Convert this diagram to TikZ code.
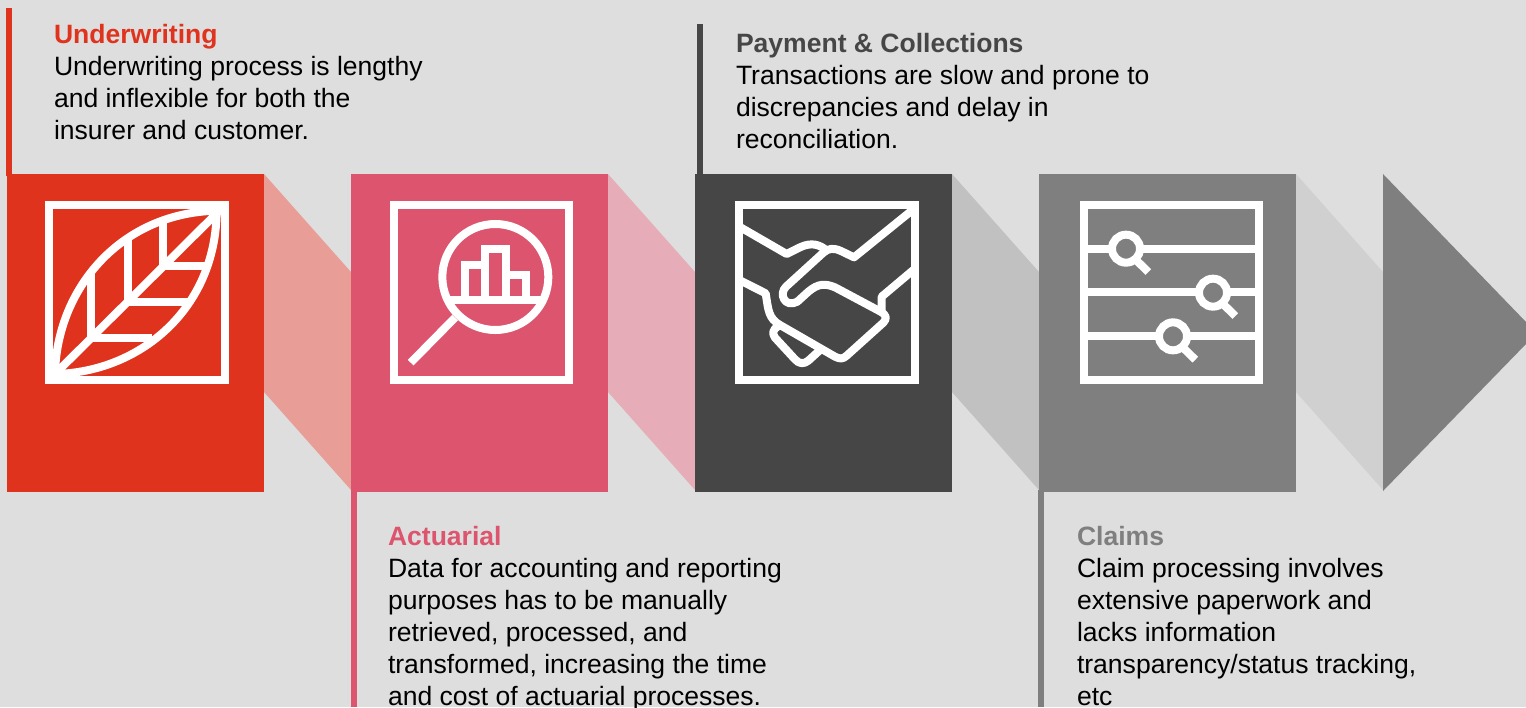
\documentclass[tikz,border=0pt]{standalone}
\usepackage{fontspec}
\setmainfont{Liberation Sans}
\definecolor{bg}{HTML}{DEDEDE}
\definecolor{cred}{HTML}{E0331E}
\definecolor{cpink}{HTML}{DC546D}
\definecolor{cdark}{HTML}{464646}
\definecolor{cgray}{HTML}{7F7F7F}
\definecolor{bred}{HTML}{E89E96}
\definecolor{bpink}{HTML}{E6ACB7}
\definecolor{bdark}{HTML}{C1C1C1}
\definecolor{bgray}{HTML}{D0D0D0}
\tikzset{
 every node/.style={inner sep=0pt,outer sep=0pt},
 card/.style={anchor=north west,minimum width=192.75pt,minimum height=238.5pt},
 txt/.style={anchor=north west,align=left,font=\fontsize{19.9}{24}\selectfont,text=black},
 ic/.style={draw=white,line width=6pt,miter limit=10},
 icr/.style={ic,line join=round,line cap=round},
}
\begin{document}
\begin{tikzpicture}[x=.75pt,y=-.75pt]
\useasboundingbox (0,0) rectangle (1526,707);
\fill[bg] (0,0) rectangle (1526,707);
% bands
\fill[bred] (264,174)--(351,272)--(351,490)--(264,392)--cycle;
\fill[bpink] (608,174)--(695,272)--(695,490)--(608,392)--cycle;
\fill[bdark] (952,174)--(1039,272)--(1039,490)--(952,392)--cycle;
\fill[bgray] (1296,174)--(1383,272)--(1383,490)--(1296,392)--cycle;
% rules
\fill[cred] (5.5,8) rectangle (11.5,176);
\fill[cpink] (351,490) rectangle (357,707);
\fill[cdark] (697,24) rectangle (703,176);
\fill[cgray] (1038,490) rectangle (1044,707);
% cards
\node[card,fill=cred] (c1) at (7,174) {};
\node[card,fill=cpink] (c2) at (351,174) {};
\node[card,fill=cdark] (c3) at (695,174) {};
\node[card,fill=cgray] (c4) at (1039,174) {};
\fill[cgray] (1383,174)--(1526,322)--(1526,344)--(1383,491)--cycle;
% icon 1
\begin{scope}[shift={(0,170)},x=.25pt,y=-.25pt]
\draw[ic] (147,105) rectangle (674,630);
\draw[ic] (165,612) .. controls (170,360) and (358,129) .. (650,122) .. controls (648,419) and (417,607) .. (165,612) -- cycle;
\draw[ic] (165,612) -- (665,115);
\draw[ic] (274,505) -- (274,310);
\draw[ic] (383,395) -- (383,210);
\draw[ic] (490,285) -- (490,155);
\draw[ic] (274,503) -- (455,503);
\draw[ic] (383,395) -- (565,395);
\draw[ic] (490,287) -- (625,287);
\end{scope}
% icon 2
\begin{scope}[shift={(350,170)},x=.25pt,y=-.25pt]
\draw[ic] (133,105) rectangle (658,630);
\draw[ic] (436,321) circle (159);
\draw[ic] (182,578) -- (315,443);
\draw[ic] (298,390) -- (575,390);
\draw[ic] (345,390) -- (345,284) -- (406,284);
\draw[ic] (406,390) -- (406,238) -- (468,238) -- (468,390);
\draw[ic] (468,316) -- (529,316) -- (529,390);
\end{scope}
% icon 3
\begin{scope}[shift={(700,170)},x=.25pt,y=-.25pt]
\draw[ic] (118,105) rectangle (644,630);
\draw[icr,line cap=butt] (118,170) -- (260,252) -- (300,232) .. controls (335,215) and (360,225) .. (378,240);
\draw[icr,line cap=butt] (640,118) -- (462,262) -- (425,244) .. controls (400,232) and (385,235) .. (370,248) -- (258,350) .. controls (235,372) and (255,415) .. (292,395) -- (325,365) .. controls (355,340) and (375,340) .. (405,352) -- (540,424) .. controls (560,435) and (562,445) .. (550,458) -- (440,557) .. controls (428,568) and (420,567) .. (405,560) -- (240,465) .. controls (205,445) and (205,420) .. (197,370) -- (118,330);
\draw[icr,line cap=butt] (545,425) -- (545,380) -- (640,300);
\draw[icr] (232,470) .. controls (220,478) and (215,490) .. (225,503) -- (285,568) .. controls (297,582) and (312,583) .. (325,572) -- (358,542);
\end{scope}
% icon 4
\begin{scope}[shift={(1040,170)},x=.25pt,y=-.25pt]
\draw[ic] (133,105) rectangle (658,630);
\draw[ic] (133,236) -- (658,236);
\draw[ic] (133,367) -- (658,367);
\draw[ic] (133,498) -- (658,498);
\foreach \cx/\cy in {258/236,519/368,399/499}{
 \fill[cgray] (\cx,\cy) circle (42);
 \draw[ic] (\cx,\cy) circle (42);
 \draw[ic] (\cx+32,\cy+36) -- (\cx+67,\cy+70);
}
\end{scope}
% text
\node[txt] (t1) at (54,24) {\textcolor{cred}{\textbf{Underwriting}}\\Underwriting process is lengthy\\and inflexible for both the\\insurer and customer.};
\node[txt] (t2) at (388,526) {\textcolor{cpink}{\textbf{Actuarial}}\\Data for accounting and reporting\\purposes has to be manually\\retrieved, processed, and\\transformed, increasing the time\\and cost of actuarial processes.};
\node[txt] (t3) at (736,33) {\textcolor{cdark}{\textbf{Payment \& Collections}}\\Transactions are slow and prone to\\discrepancies and delay in\\reconciliation.};
\node[txt] (t4) at (1077,526) {\textcolor{cgray}{\textbf{Claims}}\\Claim processing involves\\extensive paperwork and\\lacks information\\transparency/status tracking,\\etc};
\end{tikzpicture}
\end{document}
